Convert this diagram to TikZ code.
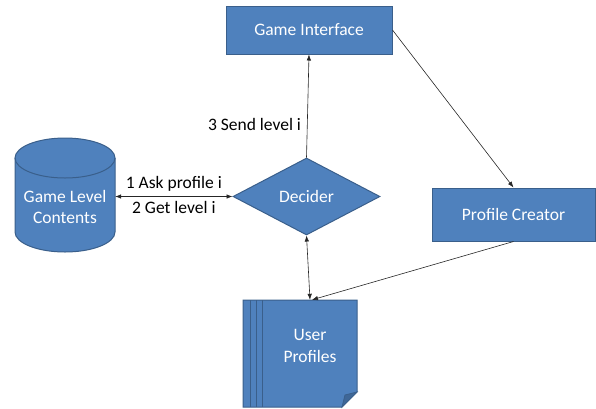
\documentclass[tikz,border=0pt]{standalone}
\usepackage{fontspec}
\setmainfont{Carlito}
\usetikzlibrary{shapes.geometric,arrows.meta}
\definecolor{boxfill}{HTML}{4F81BD}
\definecolor{boxline}{HTML}{3A5F8B}
\definecolor{foldfill}{HTML}{3F6797}
\begin{document}
\begin{tikzpicture}[x=1pt,y=-1pt,
  every node/.style={font=\fontsize{17.5}{21.5}\selectfont},
  blockbox/.style={draw=boxline,fill=boxfill,line width=1pt,text=white,inner sep=0pt},
  wlabel/.style={text=white,align=center,inner sep=0pt},
  conn/.style={draw=black!85,line width=0.6pt},
  tip/.style={-{Latex[length=6pt,width=4.5pt]}},
  tips/.style={{Latex[length=6pt,width=4.5pt]}-{Latex[length=6pt,width=4.5pt]}}]
\useasboundingbox (0,0) rectangle (596,408);

% Game Interface
\node[blockbox,minimum width=166pt,minimum height=48pt] (gi) at (309,30) {Game Interface};
% Profile Creator
\node[blockbox,minimum width=163pt,minimum height=53pt] (pc) at (513.5,214.5) {Profile Creator};
% Decider
\node[blockbox,diamond,aspect=1.9,minimum width=147pt,minimum height=77pt] (dec) at (306.5,196.5) {Decider};

% Game Level Contents: cylinder
\fill[boxfill] (15,158) -- (15,232) arc[start angle=180,end angle=0,x radius=50,y radius=20]
  -- (115,158) arc[start angle=0,end angle=-180,x radius=50,y radius=20] -- cycle;
\draw[boxline,line width=1pt] (15,158) -- (15,232) arc[start angle=180,end angle=0,x radius=50,y radius=20]
  -- (115,158);
\draw[boxline,line width=1pt] (65,158) ellipse[x radius=50,y radius=20];
\node[inner sep=0pt,minimum width=100pt,minimum height=114pt] (gl) at (65,195) {};
\node[wlabel] (gltext) at (65,207) {Game Level\\Contents};

% User Profiles: stacked document with folded corner
\draw[boxline,fill=boxfill,line width=1pt] (243,300) -- (357,300) -- (357,392) -- (342,407) -- (243,407) -- cycle;
\draw[boxline,fill=foldfill,line width=0.8pt] (342,407) -- (345,395) -- (357,392) -- cycle;
\foreach \lx in {250,256,262} \draw[boxline,line width=0.8pt] (\lx,300) -- (\lx,407);
\node[inner sep=0pt,minimum width=114pt,minimum height=107pt] (up) at (300,353.5) {};
\node[wlabel] (uptext) at (310,346) {User\\Profiles};

% connectors
\draw[conn,tips] (gl.east |- dec.west) -- node[above=5pt,text=black,inner sep=0pt] (l1) {1 Ask profile i}
  node[below=5pt,text=black,inner sep=0pt] (l2) {2 Get level i} (dec.west);
\draw[conn,tip] (dec.north) -- node[pos=0.32,left=6pt,text=black,inner sep=0pt] (l3) {3 Send level i} (gi.south);
\draw[conn,tip] (gi.east) -- (pc.north);
\draw[conn,tips] (dec.south) -- ([xshift=10pt]up.north);
\draw[conn,tip] (pc.south) -- ([xshift=12pt]up.north);
\end{tikzpicture}
\end{document}
